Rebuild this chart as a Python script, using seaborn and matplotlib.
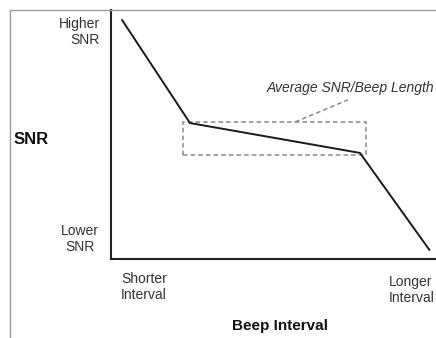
import matplotlib
matplotlib.use("Agg")
import matplotlib.pyplot as plt
import seaborn as sns
from matplotlib.patches import Rectangle
from matplotlib.lines import Line2D

beep_interval = [0.034, 0.243, 0.766, 0.98]
snr = [0.96, 0.546, 0.426, 0.036]

# Box around the middle segment
box_x = [0.222, 0.785]
box_y = [0.418, 0.550]

y_tick_labels = ["Lower\nSNR", "Higher\nSNR"]
x_tick_labels = ["Shorter\nInterval", "Longer\nInterval"]

sns.set_style("white")
plt.rcParams["font.family"] = ["Liberation Sans", "DejaVu Sans"]

fig = plt.figure(figsize=(4.36, 3.38), dpi=100)
W, H = 436, 338
ax = fig.add_axes([111 / W, (H - 259) / H, (W - 111) / W, (259 - 10) / H])

sns.lineplot(x=beep_interval, y=snr, sort=False, color="#1a1a1a",
             linewidth=1.4, ax=ax)

ax.set_xlim(0, 1)
ax.set_ylim(0, 1)
ax.set_xticks([])
ax.set_yticks([])
for side in ["top", "right"]:
    ax.spines[side].set_visible(False)
for side in ["left", "bottom"]:
    ax.spines[side].set_color("#222222")
    ax.spines[side].set_linewidth(1.5)

# Dashed box and label
ax.add_patch(Rectangle((box_x[0], box_y[0]), box_x[1] - box_x[0], box_y[1] - box_y[0],
                       fill=False, edgecolor="#888888", linestyle=(0, (3, 2)),
                       linewidth=1.1))
ax.plot([0.566, 0.729], [box_y[1], 0.639], color="#888888",
        linestyle=(0, (3, 2)), linewidth=1.1)
fig.text(434 / W, 1 - 88 / H, "Average SNR/Beep Length", fontsize=10, style="italic",
         color="#333333", ha="right", va="center")

# Tick-like labels
fig.text(100 / W, 1 - 32 / H, y_tick_labels[1], fontsize=10, ha="right",
         va="center", color="#333333", multialignment="right")
fig.text(80 / W, 1 - 239 / H, y_tick_labels[0], fontsize=10, ha="center",
         va="center", color="#333333")
fig.text(144 / W, 1 - 287 / H, x_tick_labels[0], fontsize=10, ha="center",
         va="center", color="#333333", multialignment="left")
fig.text(412 / W, 1 - 290 / H, x_tick_labels[1], fontsize=10, ha="center",
         va="center", color="#333333", multialignment="left")

# Axis titles
fig.text(14 / W, 1 - 139 / H, "SNR", fontsize=12, fontweight="bold",
         ha="left", va="center", color="#111111")
fig.text(280 / W, 1 - 326 / H, "Beep Interval", fontsize=11, fontweight="bold",
         ha="center", va="center", color="#111111")

# Outer frame lines
fig.add_artist(Line2D([10 / W, 10 / W], [0, 1 - 10 / H], color="#999999", linewidth=1))
fig.add_artist(Line2D([10 / W, 1], [1 - 10 / H, 1 - 10 / H], color="#999999", linewidth=1))

plt.savefig("out.png", dpi=100)
